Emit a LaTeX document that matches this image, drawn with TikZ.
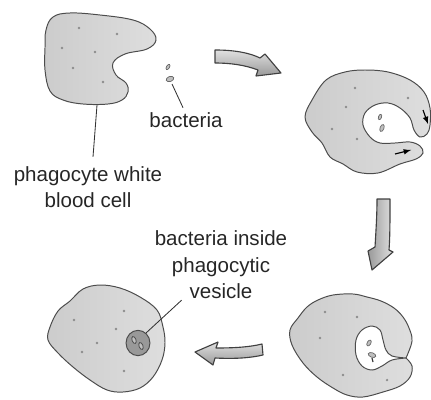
\documentclass[tikz,border=0pt]{standalone}
\usepackage{fontspec}
\setmainfont{Liberation Sans}
\usepackage{tikz}
\usetikzlibrary{calc}

\tikzset{
    cell/.style={draw=black!70, line width=0.7pt, left color=black!20, right color=black!13},
    hole/.style={draw=black!70, line width=0.7pt, fill=white},
    grain/.style={fill=black!45},
    germ/.style={draw=black!60, line width=0.5pt, fill=black!25},
    bigarrow/.style={draw=black!75, line width=0.8pt, line join=round, top color=black!12, bottom color=black!40},
    lbl/.style={align=center, inner sep=0pt, text=black!85, font=\fontsize{14.6}{18.8}\selectfont},
    pointer/.style={draw=black!80, line width=0.6pt}
}

\begin{document}
\begin{tikzpicture}[>=latex, x=0.025cm, y=-0.025cm]
    \useasboundingbox (0,0) rectangle (431,399);

    % 1. Te bao ban dau va vi khuan
    \draw[cell] plot[smooth cycle, tension=0.65] coordinates {
        (46,30) (53,17) (70,13) (100,15) (133,20) (150,29) (156,40) (147,49) (125,54)
        (113,63) (116,75) (126,83) (128,92) (122,100) (108,104) (83,104)
        (63,100) (50,91) (45,70) (45,48)};
    \foreach \p in {(79,28), (117,34), (62,48), (95,52), (73,68), (103,82)}
        \fill[grain] \p circle (0.9pt);
    \draw[germ, rotate around={-30:(168,67)}] (168,67) ellipse (1.1pt and 2.1pt);
    \draw[germ, rotate around={20:(170,79)}] (170,79) ellipse (2.8pt and 1.8pt);

    % 2. Te bao bat dau bao lay vi khuan
    \draw[cell] plot[smooth cycle, tension=0.6] coordinates {
        (305,117) (312,100) (326,80) (345,72) (365,70) (388,72) (410,80)
        (424,92) (430,108) (430,125) (427,134) (420,137) (414,130) (410,118)
        (400,108) (388,103) (375,105) (365,113) (363,125) (370,137) (380,143)
        (395,143) (410,142) (420,146) (423,153) (416,159) (400,164) (378,173)
        (357,172) (343,164) (330,157) (322,143) (312,132)};
    \foreach \p in {(355,88), (408,98), (346,107), (332,129), (357,139)}
        \fill[grain] \p circle (0.9pt);
    \draw[germ, rotate around={-20:(380,117)}] (380,117) ellipse (1.1pt and 2pt);
    \draw[germ, rotate around={-20:(382,128)}] (382,128) ellipse (1.4pt and 2.6pt);
    \draw[->, thick] (423,110) -- (428,124);
    \draw[->, thick] (395,154) -- (411,150);

    % 3. Tui thuc bao dong lai
    \draw[cell] plot[smooth, tension=0.6] coordinates {
        (406,358) (412,366) (410,377) (400,386) (383,392) (363,397) (347,395)
        (333,388) (317,377) (303,363) (292,345) (290,330) (298,318) (307,307)
        (318,300) (333,295) (353,294) (367,297) (381,301) (394,308) (403,317)
        (409,328) (412,341) (406,358)} -- cycle;
    \draw[hole] plot[smooth, tension=0.6] coordinates {
        (406,358) (392,356) (386,350) (383,340) (380,330) (372,326) (362,330)
        (356,340) (356,355) (362,366) (372,370) (382,366) (392,360) (406,358)} -- cycle;
    \foreach \p in {(325,312), (357,317), (320,338), (343,375), (387,380)}
        \fill[grain] \p circle (0.9pt);
    \draw[germ, rotate around={-30:(369,343)}] (369,343) ellipse (1.3pt and 2.3pt);
    \draw[germ, rotate around={70:(372,355)}] (372,355) ellipse (1.6pt and 2.8pt);
    \draw[black!80, thick] (372,358) -- (373,362);

    % 4. Vi khuan nam trong tui
    \draw[cell] plot[smooth cycle, tension=0.6] coordinates {
        (50,327) (58,311) (70,301) (83,289) (100,285) (120,288) (140,297)
        (157,310) (163,327) (165,343) (162,360) (153,377) (140,388) (123,392)
        (107,390) (90,380) (73,367) (58,353) (48,340)};
    \foreach \p in {(124,311), (74,320), (116,329), (97,343), (82,352), (124,371)}
        \fill[grain] \p circle (0.9pt);
    \draw[draw=black!70, line width=0.7pt, fill=black!40] (138,343) ellipse (8.5pt and 9pt);
    \draw[germ, draw=black!75, rotate around={20:(134,340)}] (134,340) ellipse (1.4pt and 2.6pt);
    \draw[germ, draw=black!75, rotate around={20:(141,346)}] (141,346) ellipse (1.4pt and 2.6pt);

    % 5. Cac mui ten lon
    \draw[bigarrow] (215,50) .. controls (235,50) and (250,53) .. (260,58)
        -- (265,54) -- (281,73) -- (256,76) -- (258,70)
        .. controls (245,65) and (230,63) .. (215,63) -- cycle;
    \draw[bigarrow, left color=black!40, right color=black!12] (377,199) -- (390,199)
        .. controls (390,220) and (390,237) .. (389,250)
        -- (393,252) -- (372,270) -- (368,251) -- (375,247)
        .. controls (376,230) and (377,215) .. (377,199) -- cycle;
    \draw[bigarrow] (262,344) .. controls (250,347) and (235,348) .. (216,348)
        -- (218,342) -- (195,352) -- (213,365) -- (215,358)
        .. controls (235,359) and (250,358) .. (263,355) -- cycle;

    % 6. Nhan va duong chi
    \node[lbl] (phago) at (88,187) {phagocyte white\\blood cell};
    \node[lbl] (bact) at (186,120.5) {bacteria};
    \node[lbl] (vesLbl) at (221,265) {bacteria inside\\phagocytic\\vesicle};

    \coordinate (pin1) at (97,105);
    \coordinate (pin2) at (172,84);
    \coordinate (pin3) at (146,333);
    \draw[pointer] (pin1) -- ($(phago.north)+(5,-9)$);
    \draw[pointer] (pin2) -- ($(bact.north)+(-3,-5)$);
    \draw[pointer] (pin3) -- ($(vesLbl.south west)+(27,1)$);
\end{tikzpicture}
\end{document}
